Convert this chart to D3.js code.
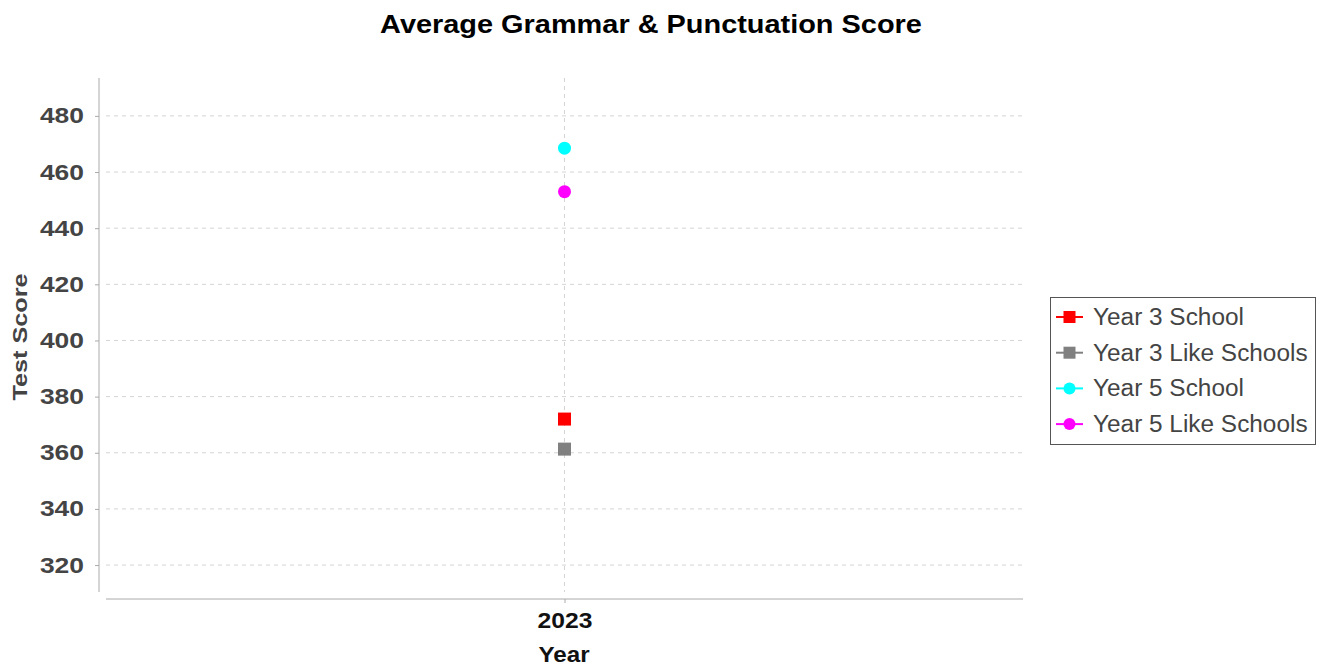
<!DOCTYPE html>
<html>
<head>
<meta charset="utf-8">
<script src="https://cdn.jsdelivr.net/npm/d3@7"></script>
<style>
  body { margin: 0; background: #fff; }
  text { font-family: "Liberation Sans", Arial, sans-serif; }
</style>
</head>
<body>
<svg id="chart" width="1322" height="666"></svg>
<script>
const years = ["2023"];
const seriesNames = ["Year 3 School", "Year 3 Like Schools", "Year 5 School", "Year 5 Like Schools"];
const seriesColors = ["#ff0000", "#808080", "#00ffff", "#ff00ff"];
const seriesShapes = ["square", "square", "circle", "circle"];
const year3School = [372];
const year3Like = [361.3];
const year5School = [468.5];
const year5Like = [453];
const yTicks = [320, 340, 360, 380, 400, 420, 440, 460, 480];

const seriesValues = [year3School, year3Like, year5School, year5Like];

const svg = d3.select("#chart");

const plot = { left: 106, right: 1023, top: 78, bottom: 592 };

// the original text is drawn a bit wider than Liberation Sans
function widen(sel, k) {
    sel.each(function () {
        const w = this.getComputedTextLength();
        d3.select(this)
            .attr("textLength", w * k)
            .attr("lengthAdjust", "spacingAndGlyphs");
    });
}

const x = d3.scalePoint()
    .domain(years)
    .range([plot.left, plot.right])
    .padding(0.5);

const y = d3.scaleLinear()
    .domain([310.4, 493.5])
    .range([plot.bottom, plot.top]);

// Title
svg.append("text")
    .attr("x", 651)
    .attr("y", 33)
    .attr("text-anchor", "middle")
    .attr("font-size", 25)
    .attr("font-weight", "bold")
    .attr("fill", "#000")
    .text("Average Grammar & Punctuation Score")
    .call(widen, 1.156);

// Gridlines
svg.append("g")
    .selectAll("line")
    .data(yTicks)
    .enter().append("line")
    .attr("x1", plot.left)
    .attr("x2", plot.right)
    .attr("y1", d => y(d))
    .attr("y2", d => y(d))
    .attr("stroke", "#d4d4d4")
    .attr("stroke-dasharray", "4,4");

svg.append("g")
    .selectAll("line")
    .data(years)
    .enter().append("line")
    .attr("x1", d => x(d))
    .attr("x2", d => x(d))
    .attr("y1", plot.top)
    .attr("y2", plot.bottom)
    .attr("stroke", "#d4d4d4")
    .attr("stroke-dasharray", "4,4");

// Y axis
const yAxis = svg.append("g")
    .attr("transform", "translate(99,0)")
    .call(d3.axisLeft(y).tickValues(yTicks).tickSize(4).tickPadding(11).tickSizeOuter(0));
yAxis.select(".domain").attr("stroke", "#aaa").attr("d", `M0,${plot.top}V${plot.bottom}`);
yAxis.selectAll(".tick line").attr("stroke", "#aaa");
yAxis.selectAll(".tick text")
    .attr("font-size", 22)
    .attr("font-weight", "bold")
    .attr("fill", "#444")
    .attr("font-family", "Liberation Sans, Arial, sans-serif")
    .call(widen, 1.2);

// X axis
const xAxis = svg.append("g")
    .attr("transform", "translate(0,599)")
    .call(d3.axisBottom(x).tickSize(4).tickPadding(9).tickSizeOuter(0));
xAxis.select(".domain").attr("stroke", "#aaa").attr("d", `M${plot.left},0H${plot.right}`);
xAxis.selectAll(".tick line").attr("stroke", "#aaa");
xAxis.selectAll(".tick text")
    .attr("font-size", 22)
    .attr("font-weight", "bold")
    .attr("fill", "#111")
    .attr("font-family", "Liberation Sans, Arial, sans-serif")
    .call(widen, 1.12);

// Axis labels
svg.append("text")
    .attr("x", 564)
    .attr("y", 662)
    .attr("text-anchor", "middle")
    .attr("font-size", 22)
    .attr("font-weight", "bold")
    .attr("fill", "#111")
    .text("Year")
    .call(widen, 1.1);

svg.append("text")
    .attr("transform", "translate(27,337) rotate(-90)")
    .attr("text-anchor", "middle")
    .attr("font-size", 21)
    .attr("font-weight", "bold")
    .attr("fill", "#444")
    .text("Test Score")
    .call(widen, 1.2);

function drawMarker(g, shape, color, cx, cy, size) {
    if (shape === "square") {
        g.append("rect")
            .attr("x", cx - size / 2)
            .attr("y", cy - size / 2)
            .attr("width", size)
            .attr("height", size)
            .attr("fill", color);
    } else {
        g.append("circle")
            .attr("cx", cx)
            .attr("cy", cy)
            .attr("r", size / 2)
            .attr("fill", color);
    }
}

// Points
const points = svg.append("g");
seriesValues.forEach((vals, i) => {
    vals.forEach((v, j) => {
        drawMarker(points, seriesShapes[i], seriesColors[i], x(years[j]), y(v), 13);
    });
});

// Legend
const legend = svg.append("g");
legend.append("rect")
    .attr("x", 1050.5)
    .attr("y", 297.5)
    .attr("width", 265)
    .attr("height", 147)
    .attr("fill", "#fff")
    .attr("stroke", "#555");

seriesNames.forEach((name, i) => {
    const cy = 317 + i * 35.7;
    legend.append("line")
        .attr("x1", 1056)
        .attr("x2", 1083)
        .attr("y1", cy)
        .attr("y2", cy)
        .attr("stroke", seriesColors[i])
        .attr("stroke-width", 2);
    drawMarker(legend, seriesShapes[i], seriesColors[i], 1069.5, cy, 12);
    legend.append("text")
        .attr("x", 1093)
        .attr("y", cy + 8)
        .attr("font-size", 23)
        .attr("fill", "#444")
        .text(name)
        .call(widen, 1.06);
});
</script>
</body>
</html>
